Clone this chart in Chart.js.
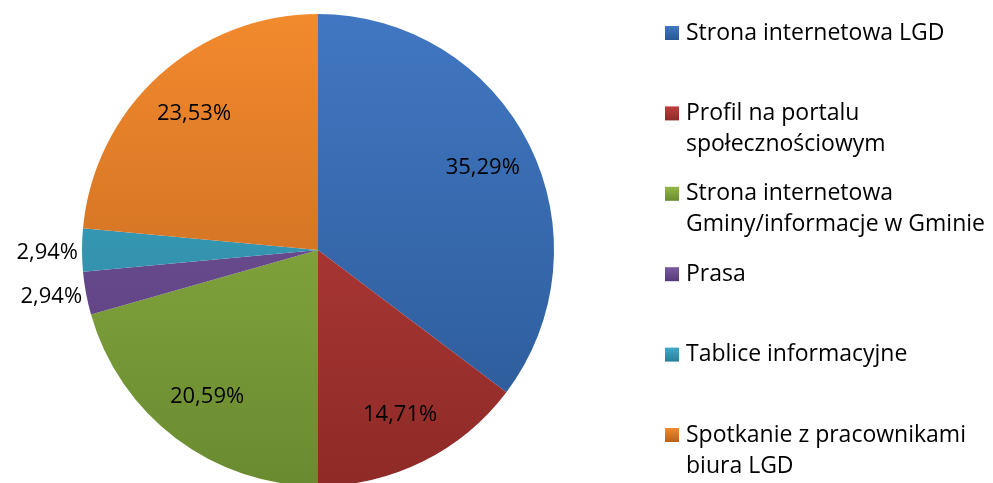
<!DOCTYPE html>
<html>
<head>
<meta charset="utf-8">
<script src="https://cdn.jsdelivr.net/npm/chart.js@4"></script>
<style>
  html, body { margin: 0; padding: 0; background: #fff; overflow: hidden; }
  #wrap { width: 993px; height: 483px; overflow: hidden; }
</style>
</head>
<body>
<div id="wrap"><canvas id="pieChart" width="993" height="500"></canvas></div>
<script>
const categories = [
    ['Strona internetowa LGD'],
    ['Profil na portalu', 'społecznościowym'],
    ['Strona internetowa', 'Gminy/informacje w Gminie'],
    ['Prasa'],
    ['Tablice informacyjne'],
    ['Spotkanie z pracownikami', 'biura LGD']
];
const shares = [35.29, 14.71, 20.59, 2.94, 2.94, 23.53];
const topColors = ['#4177C2', '#BE403D', '#93B846', '#7A5AA0', '#3EAAC8', '#F28A2E'];
const bottomColors = ['#2A5894', '#8E2A27', '#6A8A30', '#543A78', '#2A7F99', '#BA611B'];

const FONT = '"Open Sans", sans-serif';

function fmt(v) {
    return v.toFixed(2).replace('.', ',') + '%';
}

// percentage labels inside / next to the slices
const sliceLabels = {
    id: 'sliceLabels',
    afterDatasetsDraw(chart) {
        const c = chart.ctx;
        const meta = chart.getDatasetMeta(0);
        c.save();
        c.font = '22px ' + FONT;
        c.fillStyle = '#000';
        c.textBaseline = 'middle';
        meta.data.forEach((arc, i) => {
            const p = arc.getProps(['x', 'y', 'startAngle', 'endAngle', 'outerRadius']);
            const mid = (p.startAngle + p.endAngle) / 2;
            if (shares[i] < 5) {
                const r = p.outerRadius + 4;
                c.textAlign = 'right';
                c.fillText(fmt(shares[i]), p.x + Math.cos(mid) * r, p.y + Math.sin(mid) * r + 3);
            } else {
                const r = p.outerRadius * 0.78;
                c.textAlign = 'center';
                c.fillText(fmt(shares[i]), p.x + Math.cos(mid) * r, p.y + Math.sin(mid) * r);
            }
        });
        c.restore();
    }
};

// legend on the right, with wrapped entries
const sideLegend = {
    id: 'sideLegend',
    afterDraw(chart) {
        const c = chart.ctx;
        c.save();
        c.font = '23px ' + FONT;
        c.textBaseline = 'middle';
        c.textAlign = 'left';
        categories.forEach((lines, i) => {
            const y = 33 + i * 80.4;
            const g = c.createLinearGradient(0, y - 7, 0, y + 7);
            g.addColorStop(0, topColors[i]);
            g.addColorStop(1, bottomColors[i]);
            c.fillStyle = g;
            c.fillRect(665, y - 7, 14, 14);
            c.fillStyle = '#000';
            lines.forEach((t, j) => c.fillText(t, 686, y + j * 31));
        });
        c.restore();
    }
};

function sliceFill(context) {
    const i = context.dataIndex;
    const area = context.chart.chartArea;
    if (!area) return topColors[i];
    const g = context.chart.ctx.createLinearGradient(0, area.top, 0, area.bottom);
    g.addColorStop(0, topColors[i]);
    g.addColorStop(1, bottomColors[i]);
    return g;
}

const ctx = document.getElementById('pieChart').getContext('2d');
const myChart = new Chart(ctx, {
    type: 'pie',
    data: {
        labels: categories.map(l => l.join(' ')),
        datasets: [{
            data: shares,
            backgroundColor: sliceFill,
            borderWidth: 0
        }]
    },
    options: {
        responsive: false,
        animation: false,
        layout: { padding: { left: 82, right: 439, top: 14, bottom: 14 } },
        plugins: {
            legend: { display: false },
            tooltip: { enabled: false }
        }
    },
    plugins: [sliceLabels, sideLegend]
});
</script>
</body>
</html>
